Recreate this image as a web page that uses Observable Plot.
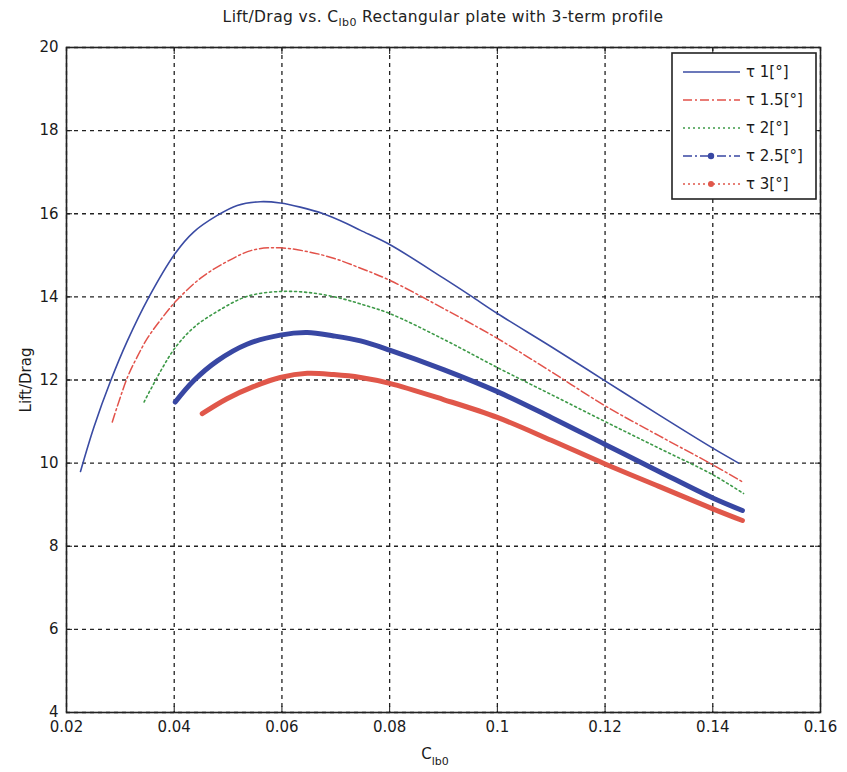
<!DOCTYPE html>
<html>
<head>
<meta charset="utf-8">
<script src="https://cdn.jsdelivr.net/npm/d3@7"></script>
<script src="https://cdn.jsdelivr.net/npm/@observablehq/plot@0.6"></script>
<style>
  body { margin: 0; background: #fff; font-family: "DejaVu Sans", "Liberation Sans", Arial, sans-serif; }
  #wrap { position: relative; width: 847px; height: 772px; }
  #title { height: 32px; width: 754px; margin-left: 66px; text-align: center; font-size: 15.5px; letter-spacing: 0.4px; line-height: 34px; color: #222; white-space: nowrap; }
  #title sub { font-size: 11px; }
  #legend { position: absolute; left: 0; top: 0; pointer-events: none; }
</style>
</head>
<body>
<div id="wrap">
  <div id="title">Lift/Drag vs. C<sub>lb0</sub> Rectangular plate with 3-term profile</div>
  <div id="chart"></div>
</div>
<script>
// ---- data ----
const seriesNames = ["τ 1[°]", "τ 1.5[°]", "τ 2[°]", "τ 2.5[°]", "τ 3[°]"];
const xTicks = [0.02, 0.04, 0.06, 0.08, 0.1, 0.12, 0.14, 0.16];
const yTicks = [4, 6, 8, 10, 12, 14, 16, 18, 20];

const tau1 = [[0.0226, 9.8], [0.0251, 10.87], [0.0282, 11.98], [0.0313, 12.94], [0.0352, 13.97], [0.0402, 15.05], [0.0436, 15.56], [0.048, 15.96], [0.0517, 16.2], [0.056, 16.29], [0.0597, 16.26], [0.0634, 16.16], [0.0677, 16.0], [0.0721, 15.76], [0.0746, 15.6], [0.08, 15.26], [0.09, 14.45], [0.095, 14.03], [0.1, 13.6], [0.11, 12.8], [0.12, 11.98], [0.13, 11.16], [0.14, 10.36], [0.1448, 10.0]];
const tau15 = [[0.0285, 10.99], [0.0313, 12.06], [0.0331, 12.55], [0.035, 13.0], [0.0375, 13.45], [0.0402, 13.88], [0.0449, 14.45], [0.0498, 14.85], [0.0547, 15.13], [0.0597, 15.18], [0.0647, 15.09], [0.0696, 14.93], [0.0746, 14.69], [0.08, 14.4], [0.09, 13.72], [0.1, 13.0], [0.11, 12.2], [0.12, 11.38], [0.13, 10.66], [0.14, 9.96], [0.1455, 9.55]];
const tau2 = [[0.0344, 11.47], [0.0375, 12.22], [0.0402, 12.78], [0.0436, 13.26], [0.048, 13.65], [0.0535, 14.01], [0.0597, 14.13], [0.0659, 14.09], [0.0714, 13.95], [0.0746, 13.83], [0.08, 13.6], [0.09, 12.98], [0.1, 12.3], [0.11, 11.65], [0.12, 11.0], [0.13, 10.36], [0.14, 9.72], [0.1457, 9.27]];
const tau25 = [[0.0402, 11.47], [0.0436, 11.98], [0.048, 12.46], [0.0535, 12.86], [0.0597, 13.08], [0.0647, 13.14], [0.0696, 13.06], [0.0746, 12.94], [0.08, 12.72], [0.09, 12.25], [0.1, 11.72], [0.11, 11.1], [0.12, 10.45], [0.13, 9.8], [0.14, 9.16], [0.1455, 8.86]];
const tau3 = [[0.0452, 11.19], [0.0498, 11.55], [0.0547, 11.84], [0.0597, 12.06], [0.0647, 12.16], [0.0696, 12.13], [0.0746, 12.06], [0.08, 11.92], [0.09, 11.53], [0.1, 11.1], [0.11, 10.55], [0.12, 9.98], [0.13, 9.44], [0.14, 8.9], [0.1455, 8.62]];

// ---- styles ----
const styles = [
  {stroke: "#3a4ba3", strokeWidth: 1.6, dash: null},
  {stroke: "#e2524a", strokeWidth: 1.5, dash: "9,3,2,3"},
  {stroke: "#3e9a48", strokeWidth: 1.6, dash: "2,3"},
  {stroke: "#3847a3", strokeWidth: 5, dash: null},
  {stroke: "#e0574a", strokeWidth: 5, dash: null}
];
const allData = [tau1, tau15, tau2, tau25, tau3];
const table = allData.flatMap((arr, i) => arr.map(([c, v]) => ({series: seriesNames[i], c, v})));

const lineMarks = seriesNames.map((name, i) => Plot.line(table.filter(d => d.series === name), {
  x: "c", y: "v",
  stroke: styles[i].stroke, strokeWidth: styles[i].strokeWidth,
  strokeDasharray: styles[i].dash, curve: "catmull-rom", strokeLinecap: "round"
}));

const font = "DejaVu Sans, Liberation Sans, Arial, sans-serif";
const plot = Plot.plot({
  width: 847, height: 740,
  marginLeft: 66, marginRight: 27, marginTop: 15, marginBottom: 60,
  style: {fontFamily: font, fontSize: "15px", color: "#1a1a1a", background: "#fff"},
  x: {domain: [0.02, 0.16]},
  y: {domain: [4, 20]},
  marks: [
    Plot.gridX(xTicks, {stroke: "#222", strokeOpacity: 1, strokeWidth: 1.3, strokeDasharray: "4,4"}),
    Plot.gridY(yTicks, {stroke: "#222", strokeOpacity: 1, strokeWidth: 1.3, strokeDasharray: "4,4"}),
    Plot.axisX(xTicks, {anchor: "bottom", tickSize: -6, tickPadding: 15, label: null, fontSize: 15, tickFormat: d => String(d)}),
    Plot.axisX(xTicks, {anchor: "top", tickSize: -6, tickFormat: () => "", label: null}),
    Plot.axisY(yTicks, {anchor: "left", tickSize: -6, tickPadding: 14, fontSize: 15, label: "Lift/Drag", labelAnchor: "center", labelOffset: 46, labelArrow: "none"}),
    Plot.axisY(yTicks, {anchor: "right", tickSize: -6, tickFormat: () => "", label: null}),
    ...lineMarks,
    Plot.frame({stroke: "#222", strokeWidth: 1.6})
  ]
});
document.getElementById("chart").appendChild(plot);

// x axis label with subscript
const sx = plot.scale("x");
const svg = d3.select(plot);
const xl = svg.append("text")
  .attr("x", (sx.range[0] + sx.range[1]) / 2 - 8)
  .attr("y", 727)
  .attr("font-family", font).attr("font-size", 15).attr("fill", "#1a1a1a")
  .attr("text-anchor", "middle");
xl.append("tspan").text("C");
xl.append("tspan").attr("dy", 6).attr("font-size", 11).text("lb0");

// legend overlay
const leg = d3.select("#wrap").append("svg").attr("id", "legend").attr("width", 847).attr("height", 772);
leg.append("rect").attr("x", 672).attr("y", 53).attr("width", 144).attr("height", 146)
  .attr("fill", "#fff").attr("stroke", "#222").attr("stroke-width", 1.6);
const rowY = [72, 100, 128, 156, 184];
seriesNames.forEach((name, i) => {
  const y = rowY[i];
  const dash = i === 3 ? "9,3,2,3" : i === 4 ? "2,3" : styles[i].dash;
  leg.append("line").attr("x1", 683).attr("x2", 740).attr("y1", y).attr("y2", y)
    .attr("stroke", styles[i].stroke).attr("stroke-width", 1.6)
    .attr("stroke-dasharray", dash);
  if (i === 3) leg.append("circle").attr("cx", 711).attr("cy", y).attr("r", 3.2).attr("fill", styles[i].stroke);
  if (i === 4) leg.append("circle").attr("cx", 711).attr("cy", y).attr("r", 3).attr("fill", styles[i].stroke);
  leg.append("text").attr("x", 746).attr("y", y + 5).attr("font-family", font).attr("font-size", 15)
    .attr("fill", "#1a1a1a").text(name);
});
</script>
</body>
</html>
